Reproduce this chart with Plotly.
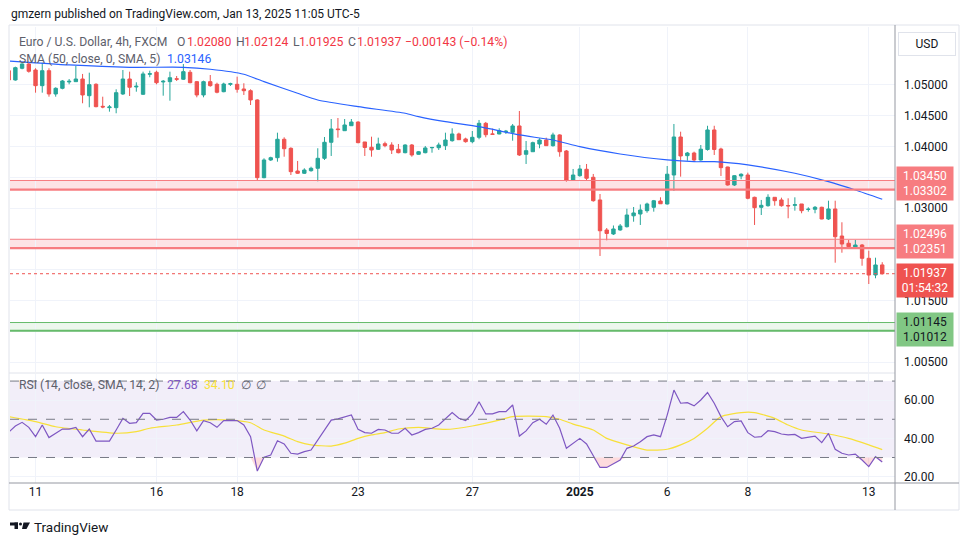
import plotly.graph_objects as go

W, H = 970, 545
FONT = "Roboto"

def px(x):
    return x / W

def py(y):
    return 1 - y / H

# ---------------- data (4h candles, index 0 = first visible bar) ----------------
open_ = [1.05232, 1.05081, 1.05271, 1.05341, 1.05243, 1.04989, 1.05232, 1.04854, 1.04946, 1.05049,
         1.05054, 1.05097, 1.04826, 1.05011, 1.04654, 1.04632, 1.04632, 1.04854, 1.05097, 1.04968,
         1.04849, 1.05174, 1.05206, 1.05049, 1.05054, 1.05102, 1.05093, 1.05206, 1.05054, 1.04838,
         1.05054, 1.05011, 1.04891, 1.05011, 1.05011, 1.04935, 1.04907, 1.04757, 1.03496, 1.03783,
         1.03820, 1.04119, 1.03972, 1.03604, 1.03567, 1.03609, 1.03648, 1.03810, 1.04070, 1.04286,
         1.04258, 1.04339, 1.04399, 1.04075, 1.03989, 1.03956, 1.04047, 1.04026, 1.03956, 1.03901,
         1.04026, 1.03875, 1.03901, 1.03981, 1.03982, 1.04015, 1.04096, 1.04205, 1.04124, 1.04080,
         1.04151, 1.04378, 1.04205, 1.04205, 1.04242, 1.04232, 1.04335, 1.03875, 1.03917, 1.04042,
         1.04107, 1.04015, 1.04189, 1.03929, 1.03458, 1.03528, 1.03632, 1.03502, 1.03134, 1.02647,
         1.02582, 1.02647, 1.02700, 1.02877, 1.02906, 1.02960, 1.03015, 1.03117, 1.03069, 1.03539,
         1.04156, 1.03853, 1.03896, 1.03783, 1.03953, 1.04270, 1.03961, 1.03669, 1.03377, 1.03523,
         1.03539, 1.03177, 1.03015, 1.03041, 1.03177, 1.03134, 1.03044, 1.03047, 1.03069, 1.02979,
         1.02983, 1.03015, 1.02825, 1.02988, 1.02549, 1.02431, 1.02350, 1.02403, 1.02187, 1.01916,
         1.02080]
high = [1.05243, 1.05297, 1.05352, 1.05378, 1.05271, 1.05362, 1.05271, 1.04962, 1.05081, 1.05097,
        1.05308, 1.05179, 1.05200, 1.05028, 1.04810, 1.04675, 1.04930, 1.05243, 1.05216, 1.05044,
        1.05216, 1.05232, 1.05232, 1.05081, 1.05216, 1.05146, 1.05341, 1.05243, 1.05065, 1.05070,
        1.05162, 1.05037, 1.05037, 1.05037, 1.05135, 1.05028, 1.04930, 1.04768, 1.03810, 1.03836,
        1.04226, 1.04151, 1.03989, 1.03767, 1.03648, 1.03674, 1.03973, 1.04156, 1.04448, 1.04464,
        1.04448, 1.04448, 1.04411, 1.04075, 1.04161, 1.04145, 1.04080, 1.04070, 1.04042, 1.04037,
        1.04042, 1.03929, 1.04010, 1.03994, 1.04064, 1.04226, 1.04297, 1.04226, 1.04145, 1.04253,
        1.04432, 1.04400, 1.04291, 1.04297, 1.04270, 1.04367, 1.04578, 1.04091, 1.04080, 1.04135,
        1.04145, 1.04226, 1.04200, 1.03945, 1.03637, 1.03702, 1.03718, 1.03556, 1.03231, 1.02679,
        1.02720, 1.02744, 1.02992, 1.03020, 1.03061, 1.03090, 1.03134, 1.03177, 1.03685, 1.04367,
        1.04242, 1.03913, 1.03918, 1.04026, 1.04338, 1.04338, 1.03982, 1.03674, 1.03534, 1.03567,
        1.03577, 1.03187, 1.03134, 1.03226, 1.03177, 1.03171, 1.03161, 1.03177, 1.03069, 1.03015,
        1.03036, 1.03025, 1.03122, 1.03122, 1.02772, 1.02484, 1.02484, 1.02419, 1.02311, 1.02197,
        1.02124]
low = [1.05054, 1.05070, 1.05255, 1.05200, 1.04875, 1.04875, 1.04810, 1.04810, 1.04930, 1.05011,
       1.05054, 1.04703, 1.04638, 1.04638, 1.04622, 1.04567, 1.04541, 1.04838, 1.04821, 1.04891,
       1.04838, 1.05125, 1.05011, 1.04826, 1.04745, 1.05065, 1.05081, 1.05028, 1.04800, 1.04800,
       1.04972, 1.04865, 1.04882, 1.04984, 1.04875, 1.04838, 1.04675, 1.03442, 1.03486, 1.03767,
       1.03755, 1.03836, 1.03539, 1.03556, 1.03556, 1.03593, 1.03437, 1.03783, 1.03848, 1.04145,
       1.04253, 1.04335, 1.04054, 1.03848, 1.03836, 1.03945, 1.03989, 1.03880, 1.03891, 1.03891,
       1.03836, 1.03869, 1.03891, 1.03901, 1.03945, 1.03945, 1.04080, 1.04107, 1.04064, 1.04054,
       1.04119, 1.04151, 1.04193, 1.04200, 1.04205, 1.04096, 1.03848, 1.03718, 1.03917, 1.03973,
       1.04010, 1.03999, 1.03836, 1.03431, 1.03442, 1.03512, 1.03458, 1.03106, 1.02225, 1.02479,
       1.02566, 1.02635, 1.02687, 1.02781, 1.02728, 1.02927, 1.02944, 1.03069, 1.03060, 1.03280,
       1.03512, 1.03771, 1.03755, 1.03771, 1.03934, 1.03864, 1.03523, 1.03366, 1.03361, 1.03470,
       1.03145, 1.02728, 1.02890, 1.03025, 1.03041, 1.03025, 1.02837, 1.02960, 1.02918, 1.02944,
       1.02918, 1.02820, 1.02809, 1.02116, 1.02278, 1.02350, 1.02338, 1.02067, 1.01770, 1.01863,
       1.01925]
close = [1.05081, 1.05281, 1.05341, 1.05222, 1.04989, 1.05232, 1.04854, 1.04946, 1.05065, 1.05060,
         1.05097, 1.04838, 1.05005, 1.04648, 1.04643, 1.04643, 1.04875, 1.05097, 1.04963, 1.04979,
         1.05179, 1.05183, 1.05037, 1.05060, 1.05118, 1.05093, 1.05216, 1.05037, 1.04838, 1.05054,
         1.04989, 1.04882, 1.05016, 1.05021, 1.04930, 1.04907, 1.04757, 1.03496, 1.03783, 1.03820,
         1.04119, 1.03966, 1.03593, 1.03567, 1.03620, 1.03648, 1.03810, 1.04070, 1.04286, 1.04276,
         1.04351, 1.04399, 1.04064, 1.03986, 1.03945, 1.04042, 1.04015, 1.03945, 1.03901, 1.04026,
         1.03864, 1.03917, 1.03978, 1.03986, 1.04026, 1.04107, 1.04205, 1.04112, 1.04080, 1.04151,
         1.04378, 1.04193, 1.04200, 1.04258, 1.04249, 1.04335, 1.03864, 1.03934, 1.04064, 1.04107,
         1.04015, 1.04189, 1.03917, 1.03453, 1.03539, 1.03637, 1.03486, 1.03122, 1.02634, 1.02590,
         1.02663, 1.02712, 1.02890, 1.02923, 1.02971, 1.03069, 1.03121, 1.03072, 1.03552, 1.04156,
         1.03848, 1.03896, 1.03783, 1.03958, 1.04270, 1.03953, 1.03658, 1.03377, 1.03528, 1.03551,
         1.03161, 1.03009, 1.03047, 1.03177, 1.03122, 1.03041, 1.03038, 1.03057, 1.02960, 1.02984,
         1.03015, 1.02825, 1.02988, 1.02538, 1.02419, 1.02376, 1.02403, 1.02187, 1.01916, 1.02079,
         1.01937]

# SMA(50) at selected bars
sma_idx = [0, 9, 18, 26, 30, 35, 38, 43, 46, 52, 59, 61, 65, 70, 76, 81, 85, 91, 98, 102, 105,
           110, 117, 122, 126, 130]
sma_val = [1.05390, 1.05325, 1.05287, 1.05287, 1.05255, 1.05174, 1.05054, 1.04865, 1.04757,
           1.04648, 1.04541, 1.04486, 1.04404, 1.04323, 1.04189, 1.04107, 1.03999, 1.03880,
           1.03783, 1.03755, 1.03755, 1.03702, 1.03567, 1.03431, 1.03296, 1.03146]

# RSI(14) per bar
rsi = [43.2, 46.5, 48.4, 45.8, 40.9, 47.0, 40.4, 42.7, 44.9, 44.9, 45.8, 40.9, 44.9, 38.6, 38.6,
       38.6, 44.4, 50.5, 47.9, 48.2, 53.1, 53.1, 49.6, 50.0, 51.0, 51.0, 54.0, 49.6, 43.9, 49.3,
       48.2, 45.8, 49.3, 49.3, 49.3, 47.0, 40.9, 22.9, 30.1, 31.3, 38.8, 37.1, 32.2, 31.8, 33.1,
       33.9, 39.2, 44.4, 49.6, 50.2, 51.4, 52.3, 44.7, 43.0, 42.7, 44.7, 44.4, 42.7, 42.7, 45.3,
       41.8, 43.0, 44.7, 45.3, 47.0, 50.5, 53.5, 50.5, 49.3, 52.8, 59.2, 52.8, 52.8, 54.0, 54.0,
       57.5, 41.2, 43.9, 48.2, 50.0, 47.4, 52.2, 45.3, 34.8, 37.4, 40.0, 37.1, 30.8, 24.8, 24.8,
       26.9, 28.7, 34.8, 36.0, 38.3, 40.9, 41.8, 40.9, 52.2, 65.3, 58.4, 58.7, 57.0, 60.1, 64.0,
       58.4, 51.4, 46.1, 48.8, 49.1, 43.0, 40.6, 40.9, 44.0, 43.5, 42.3, 41.8, 42.1, 40.0, 40.6,
       41.2, 37.8, 42.6, 34.3, 32.2, 31.3, 31.8, 28.7, 25.2, 30.4, 27.68]

# RSI-based SMA(14) read at selected bars
rsi_ma_idx = [0, 4, 7, 11, 16, 19, 21, 25, 29, 33, 36, 38, 41, 43, 45, 48, 50, 52, 54, 56, 58,
              61, 65, 69, 73, 75, 80, 82, 84, 87, 89, 92, 95, 98, 100, 102, 104, 106, 109, 111,
              114, 116, 118, 122, 125, 128, 130]
rsi_ma_val = [51.4, 48.8, 46.1, 44.4, 42.7, 43.5, 45.3, 47.0, 49.6, 49.6, 48.2, 44.4, 41.2, 38.3,
              36.6, 36.0, 37.5, 40.0, 41.8, 43.0, 44.9, 45.8, 44.7, 46.5, 49.6, 51.4, 51.4, 50.0,
              47.5, 44.4, 40.0, 36.6, 33.9, 34.3, 36.6, 40.0, 45.3, 51.4, 53.5, 53.5, 50.5, 47.0,
              44.4, 42.3, 40.0, 36.6, 34.1]

# zones drawn on the chart
resistance_zones = [(1.03302, 1.03450), (1.02351, 1.02496)]
support_zone = (1.01012, 1.01145)

# axes
day_idx = [4, 22, 34, 52, 69, 85, 98, 110, 128]
day_labels = ["11", "16", "18", "23", "27", "<b>2025</b>", "6", "8", "13"]
price_ticks = [1.005, 1.010, 1.015, 1.020, 1.025, 1.030, 1.035, 1.040, 1.045, 1.050]
price_tick_labels = ["1.00500", "", "1.01500", "", "", "1.03000", "", "1.04000", "1.04500", "1.05000"]
rsi_ticks = [20, 40, 60]
rsi_tick_labels = ["20.00", "40.00", "60.00"]
rsi_levels = [30, 50, 70]

# ---------------- colours ----------------
UP = "#26a69a"
DN = "#ef5350"
GRID = "#f0f3fa"
TXT = "#131722"
GREY = "#5d606b"
RED = "#f23645"
BLUE = "#2962ff"
PURPLE = "#7e57c2"
YELLOW = "#f7e03a"
ZONE_LINE = "#f77c80"
LEG = 12.2

idx = list(range(len(open_)))

fig = go.Figure()

# RSI oversold fill (below 30)
fig.add_trace(go.Scatter(x=idx, y=[30] * len(rsi), xaxis="x2", yaxis="y2", mode="lines",
                         line=dict(width=0), hoverinfo="skip", showlegend=False))
fig.add_trace(go.Scatter(x=idx, y=[min(v, 30) for v in rsi], xaxis="x2", yaxis="y2", mode="lines",
                         line=dict(width=0), fill="tonexty", fillcolor="rgba(242,54,69,0.18)",
                         hoverinfo="skip", showlegend=False))

fig.add_trace(go.Candlestick(
    x=idx, open=open_, high=high, low=low, close=close,
    increasing=dict(line=dict(color=UP, width=1), fillcolor=UP),
    decreasing=dict(line=dict(color=DN, width=1), fillcolor=DN),
    whiskerwidth=0, xaxis="x", yaxis="y", showlegend=False, hoverinfo="skip"))

fig.add_trace(go.Scatter(x=sma_idx, y=sma_val, xaxis="x", yaxis="y", mode="lines",
                         line=dict(color=BLUE, width=1.2, shape="spline", smoothing=0.6),
                         hoverinfo="skip", showlegend=False))

fig.add_trace(go.Scatter(x=rsi_ma_idx, y=rsi_ma_val, xaxis="x2", yaxis="y2", mode="lines",
                         line=dict(color=YELLOW, width=1.2, shape="spline", smoothing=0.6),
                         hoverinfo="skip", showlegend=False))
fig.add_trace(go.Scatter(x=idx, y=rsi, xaxis="x2", yaxis="y2", mode="lines",
                         line=dict(color=PURPLE, width=1.2), hoverinfo="skip", showlegend=False))

shapes = []
# resistance zones
for lo, hi in resistance_zones:
    shapes.append(dict(type="rect", xref="x domain", yref="y", x0=0, x1=1, y0=lo, y1=hi,
                       fillcolor="rgba(242,54,69,0.14)", line=dict(width=0), layer="below"))
    shapes.append(dict(type="line", xref="x domain", yref="y", x0=0, x1=1, y0=hi, y1=hi,
                       line=dict(color=ZONE_LINE, width=1)))
    shapes.append(dict(type="line", xref="x domain", yref="y", x0=0, x1=1, y0=lo, y1=lo,
                       line=dict(color=ZONE_LINE, width=2.2)))
# support zone
lo, hi = support_zone
shapes.append(dict(type="rect", xref="x domain", yref="y", x0=0, x1=1, y0=lo, y1=hi,
                   fillcolor="rgba(76,175,80,0.10)", line=dict(width=0), layer="below"))
shapes.append(dict(type="line", xref="x domain", yref="y", x0=0, x1=1, y0=hi, y1=hi,
                   line=dict(color="#66bb6a", width=1)))
shapes.append(dict(type="line", xref="x domain", yref="y", x0=0, x1=1, y0=lo, y1=lo,
                   line=dict(color="#66bb6a", width=2)))
# last price dotted line
shapes.append(dict(type="line", xref="x domain", yref="y", x0=0, x1=1, y0=close[-1], y1=close[-1],
                   line=dict(color=DN, width=1, dash="dot")))
# RSI band + levels
shapes.append(dict(type="rect", xref="x2 domain", yref="y2", x0=0, x1=1, y0=rsi_levels[0],
                   y1=rsi_levels[2], fillcolor="rgba(126,87,194,0.10)", line=dict(width=0),
                   layer="below"))
for lv in rsi_levels:
    shapes.append(dict(type="line", xref="x2 domain", yref="y2", x0=0, x1=1, y0=lv, y1=lv,
                       line=dict(color="#787b86", width=1, dash="dash")))
# frame and separators
shapes.append(dict(type="rect", xref="paper", yref="paper", x0=px(9), x1=px(959), y0=py(510),
                   y1=py(25), line=dict(color="#e0e3eb", width=1)))
shapes.append(dict(type="line", xref="paper", yref="paper", x0=px(9), x1=px(895), y0=py(373),
                   y1=py(373), line=dict(color="#e0e3eb", width=1)))
shapes.append(dict(type="line", xref="paper", yref="paper", x0=px(895), x1=px(895), y0=py(510),
                   y1=py(25), line=dict(color="#9598a1", width=1)))
shapes.append(dict(type="line", xref="paper", yref="paper", x0=px(9), x1=px(959), y0=py(483),
                   y1=py(483), line=dict(color="#9598a1", width=1)))
# TradingView logo glyph
shapes.append(dict(type="rect", xref="paper", yref="paper", x0=px(10), x1=px(18), y0=py(525.5),
                   y1=py(522.5), fillcolor="#131722", line=dict(width=0)))
shapes.append(dict(type="rect", xref="paper", yref="paper", x0=px(14.5), x1=px(18), y0=py(529),
                   y1=py(522.5), fillcolor="#131722", line=dict(width=0)))
shapes.append(dict(type="circle", xref="paper", yref="paper", x0=px(19), x1=px(22), y0=py(525.5),
                   y1=py(522.5), fillcolor="#131722", line=dict(width=0)))
shapes.append(dict(type="path", xref="paper", yref="paper",
                   path=f"M {px(23.5)} {py(522.5)} L {px(30)} {py(522.5)} L {px(26.5)} {py(529)} "
                        f"L {px(22)} {py(529)} Z",
                   fillcolor="#131722", line=dict(width=0)))

ann = []

def txt(x, y, s, color, size=12, anchor="left"):
    ann.append(dict(xref="paper", yref="paper", x=px(x), y=py(y), text=s, showarrow=False,
                    xanchor=anchor, yanchor="middle", font=dict(family=FONT, size=size, color=color)))

txt(9, 14, "gmzern published on TradingView.com, Jan 13, 2025 11:05 UTC-5", TXT, 12)
txt(17, 42, "Euro / U.S. Dollar, 4h, FXCM", GREY, LEG)
for lx, lab, vx, val in [(175, "O", 185, open_[-1]), (234, "H", 242, high[-1]),
                         (291, "L", 297, low[-1]), (346, "C", 355, close[-1])]:
    txt(lx, 42, lab, GREY, LEG)
    txt(vx, 42, f"{val:.5f}", RED, LEG)
chg = close[-1] - open_[-1]
txt(403, 42, f"\u2212{abs(chg):.5f} (\u2212{abs(chg) / open_[-1] * 100:.2f}%)", RED, LEG)
txt(17, 59, "SMA (50, close, 0, SMA, 5)", GREY, LEG)
txt(165, 59, f"{sma_val[-1]:.5f}", BLUE, LEG)
txt(17, 385, "RSI (14, close, SMA, 14, 2)", GREY, LEG)
txt(165, 385, f"{rsi[-1]:.2f}", PURPLE, LEG)
txt(202, 385, f"{rsi_ma_val[-1]:.2f}", YELLOW, LEG)
txt(239, 385, "\u2205", GREY, LEG)
txt(254, 385, "\u2205", GREY, LEG)
txt(32, 527, "TradingView", TXT, 13.5)

# USD box
ann.append(dict(xref="paper", yref="paper", x=px(927), y=py(44), text="USD", showarrow=False,
                xanchor="center", yanchor="middle", width=52, height=18, bordercolor="#e0e3eb",
                borderwidth=1, borderpad=2, font=dict(family=FONT, size=12, color=TXT)))

# price labels on axis
def plabel(yval, text, bg, fg, yshift=0):
    ann.append(dict(xref="paper", yref="y", x=px(896), y=yval, text=text, showarrow=False,
                    xanchor="left", yanchor="middle", width=52, height=29, borderpad=2,
                    bgcolor=bg, align="center", yshift=yshift,
                    font=dict(family=FONT, size=12, color=fg)))

for lo, hi in resistance_zones:
    plabel((lo + hi) / 2, f"{hi:.5f}<br>{lo:.5f}", ZONE_LINE, "white", yshift=2)
plabel(close[-1], f"{close[-1]:.5f}<br>01:54:32", DN, "white", yshift=-7)
plabel((support_zone[0] + support_zone[1]) / 2, f"{support_zone[1]:.5f}<br>{support_zone[0]:.5f}",
       "#81c784", TXT, yshift=-3)

xr = [0.2, 131.9]
fig.update_layout(
    width=W, height=H, margin=dict(l=0, r=0, t=0, b=0),
    paper_bgcolor="white", plot_bgcolor="white", showlegend=False, boxgap=0.28,
    font=dict(family=FONT, size=12, color=TXT),
    xaxis=dict(domain=[px(10), px(895)], range=xr, anchor="y", showticklabels=False,
               tickvals=day_idx, showgrid=True, gridcolor=GRID, zeroline=False,
               rangeslider=dict(visible=False), showline=False, fixedrange=True),
    xaxis2=dict(domain=[px(10), px(895)], range=xr, anchor="y2", matches="x",
                tickvals=day_idx, ticktext=day_labels, showgrid=True, gridcolor=GRID,
                zeroline=False, showline=False, ticks="", tickfont=dict(family=FONT, size=12, color=TXT)),
    yaxis=dict(domain=[py(372), py(27)], range=[1.00342, 1.05941], anchor="x", side="right",
               tickvals=price_ticks, ticktext=price_tick_labels, showgrid=True, gridcolor=GRID,
               zeroline=False, showline=False, ticks="", ticklabelstandoff=8,
               tickfont=dict(family=FONT, size=12, color=TXT)),
    yaxis2=dict(domain=[py(483), py(374)], range=[16.65, 73.7], anchor="x2", side="right",
                tickvals=rsi_ticks, ticktext=rsi_tick_labels, showgrid=True, gridcolor=GRID,
                zeroline=False, showline=False, ticks="", ticklabelstandoff=8,
                tickfont=dict(family=FONT, size=12, color=TXT)),
    shapes=shapes, annotations=ann,
)

fig.write_html("out.html", config={"displayModeBar": False},
               post_script="document.body.style.margin='0';")
